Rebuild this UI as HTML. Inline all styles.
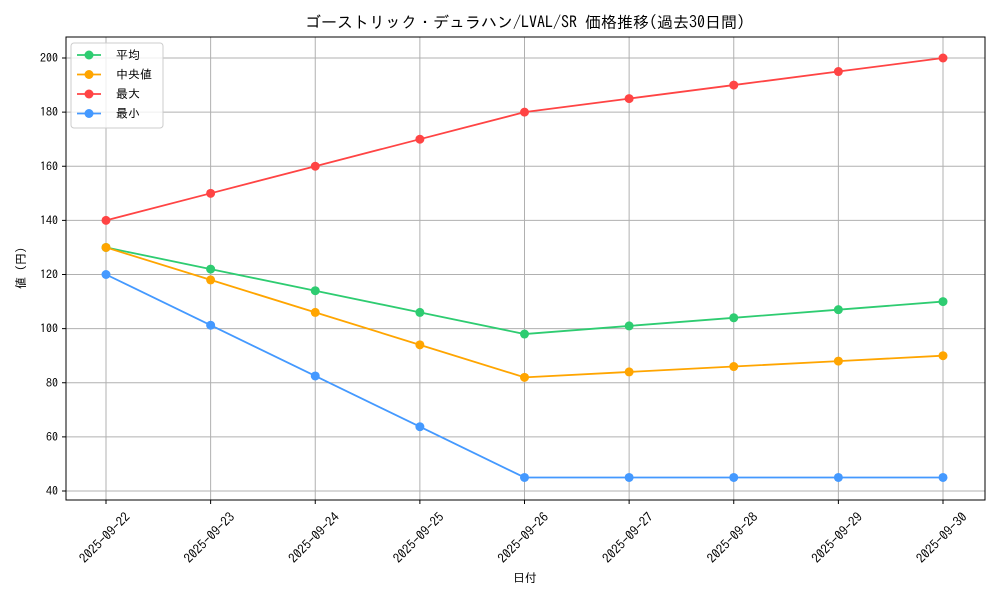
<!DOCTYPE html>
<html><head><meta charset="utf-8"><style>
body{margin:0;background:#fff;}
svg text{font-family:"IPAGothic","Liberation Sans","Noto Sans CJK JP",sans-serif;fill:#000;}
</style></head><body>
<svg id="chart" width="1000" height="600" xmlns="http://www.w3.org/2000/svg">
<rect width="1000" height="600" fill="#fff"/>
<text x="525" y="28" font-size="16" text-anchor="middle">ゴーストリック・デュラハン/LVAL/SR 価格推移(過去30日間)</text>
<g id="grid"></g>
<g id="series"></g>
<rect x="66" y="37" width="919" height="463" fill="none" stroke="#000" stroke-width="1"/>
<g id="axes"></g>
<text x="525" y="582" font-size="12" text-anchor="middle">日付</text>
<text transform="translate(25,268) rotate(-90)" font-size="12" text-anchor="middle">値 (円)</text>
<g id="legend">
<rect x="71" y="43" width="92" height="85" rx="3" fill="#fff" fill-opacity="0.8" stroke="#ccc"/>
</g>
</svg>
<script>
const categories=["2025-09-22","2025-09-23","2025-09-24","2025-09-25","2025-09-26","2025-09-27","2025-09-28","2025-09-29","2025-09-30"];
const seriesNames=["平均","中央値","最大","最小"];
const avgValues=[130,122,114,106,98,101,104,107,110];
const medianValues=[130,118,106,94,82,84,86,88,90];
const maxValues=[140,150,160,170,180,185,190,195,200];
const minValues=[120,101.25,82.5,63.75,45,45,45,45,45];
const yTicks=[40,60,80,100,120,140,160,180,200];
const colors=["#2ecc71","#ffa500","#ff4444","#4499ff"];
const NS="http://www.w3.org/2000/svg";
function x(i){return 106+i*(943-106)/(categories.length-1);}
function y(v){return 491-(v-40)*(491-58)/160;}
function mk(tag,attrs,parent){const e=document.createElementNS(NS,tag);for(const k in attrs)e.setAttribute(k,attrs[k]);parent.appendChild(e);return e;}
const grid=document.getElementById('grid'),axes=document.getElementById('axes'),ser=document.getElementById('series'),leg=document.getElementById('legend');
yTicks.forEach(t=>{
 const l=mk('line',{x1:66,x2:985,y1:y(t),y2:y(t),stroke:'#b0b0b0','stroke-width':1},grid);
 
 
 mk('line',{x1:62,x2:66,y1:y(t),y2:y(t),stroke:'#000'},axes);
 const tx=mk('text',{x:58,y:y(t)+4,'font-size':12,'text-anchor':'end'},axes);
 tx.textContent=t;
 
 
});
categories.forEach((c,i)=>{
 const l=mk('line',{x1:x(i),x2:x(i),y1:37,y2:500,stroke:'#b0b0b0','stroke-width':1},grid);
 
 
 mk('line',{x1:x(i),x2:x(i),y1:500,y2:504,stroke:'#000'},axes);
 const tx=mk('text',{x:0,y:4,'font-size':13,'text-anchor':'middle',transform:`translate(${x(i)-1},${538}) rotate(-45)`},axes);
 tx.textContent=c;
 
 
});
[avgValues,medianValues,maxValues,minValues].forEach((vals,s)=>{
 const g=mk('g',{},ser);
 
 
 const p=mk('polyline',{points:vals.map((v,i)=>x(i)+','+y(v)).join(' '),fill:'none',stroke:colors[s],'stroke-width':1.8},g);
 
 
 vals.forEach((v,i)=>{
  const c=mk('circle',{cx:x(i),cy:y(v),r:4.5,fill:colors[s]},g);
  
  
 });
 const ly=55+s*19.5;
 mk('line',{x1:77,x2:101,y1:ly,y2:ly,stroke:colors[s],'stroke-width':1.8},leg);
 mk('circle',{cx:89,cy:ly,r:4.5,fill:colors[s]},leg);
 const t=mk('text',{x:116,y:ly+4,'font-size':12},leg);
 t.textContent=seriesNames[s];
 
 
});
</script>
</body></html>
